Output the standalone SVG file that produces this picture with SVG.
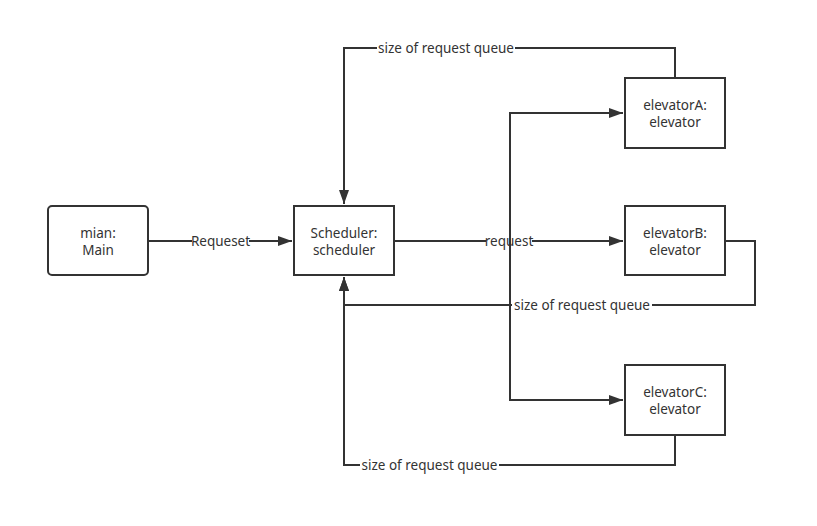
<svg xmlns="http://www.w3.org/2000/svg" width="817" height="526" viewBox="0 0 817 526">
<style>
.box{fill:#fff;stroke:#333;stroke-width:2}
.t{font-family:"Noto Sans","Open Sans",sans-serif;font-size:13.5px;fill:#333;text-anchor:middle}
.e{fill:none;stroke:#333;stroke-width:2}
.lb{fill:#fff}
</style>
<defs>
<marker id="arr" markerUnits="userSpaceOnUse" markerWidth="16" markerHeight="12" refX="14" refY="5" orient="auto">
<path d="M0,0 L14,5 L0,10 Z" fill="#333"/>
</marker>
</defs>
<rect width="817" height="526" fill="#fff"/>
<g id="connectors">
<path class="e" d="M148,241 L292,241" marker-end="url(#arr)"/>
<rect class="lb" x="192" y="234" width="57" height="14"/>
<text class="t" x="220.5" y="246">Requeset</text>
<path class="e" d="M394,241 L623,241" marker-end="url(#arr)"/>
<rect class="lb" x="486" y="234" width="46" height="14"/>
<text class="t" x="509" y="246">request</text>
<path class="e" d="M675,78 L675,48 L344,48 L344,204" marker-end="url(#arr)"/>
<rect class="lb" x="377" y="41" width="138" height="14"/>
<text class="t" x="446" y="53">size of request queue</text>
<path class="e" d="M725,241 L755,241 L755,305 L344,305 L344,277" marker-end="url(#arr)"/>
<rect class="lb" x="512" y="298" width="140" height="14"/>
<text class="t" x="582" y="310">size of request queue</text>
<path class="e" d="M675,435 L675,465 L344,465 L344,277" marker-end="url(#arr)"/>
<rect class="lb" x="360" y="458" width="139" height="14"/>
<text class="t" x="429.5" y="470">size of request queue</text>
<path class="e" d="M510,241 L510,113 L623,113" marker-end="url(#arr)"/>
<path class="e" d="M510,241 L510,400 L623,400" marker-end="url(#arr)"/>
</g>
<g id="main">
<rect class="box" x="48" y="206" width="100" height="69" rx="4"/>
<text class="t" x="98" y="238">mian:</text>
<text class="t" x="98" y="255">Main</text>
</g>
<g id="scheduler">
<rect class="box" x="294" y="206" width="100" height="69"/>
<text class="t" x="344" y="238">Scheduler:</text>
<text class="t" x="344" y="255">scheduler</text>
</g>
<g id="elevatorA">
<rect class="box" x="625" y="78" width="100" height="70"/>
<text class="t" x="675" y="110">elevatorA:</text>
<text class="t" x="675" y="127">elevator</text>
</g>
<g id="elevatorB">
<rect class="box" x="625" y="206" width="100" height="69"/>
<text class="t" x="675" y="238">elevatorB:</text>
<text class="t" x="675" y="255">elevator</text>
</g>
<g id="elevatorC">
<rect class="box" x="625" y="365" width="100" height="70"/>
<text class="t" x="675" y="397">elevatorC:</text>
<text class="t" x="675" y="414">elevator</text>
</g>
</svg>
